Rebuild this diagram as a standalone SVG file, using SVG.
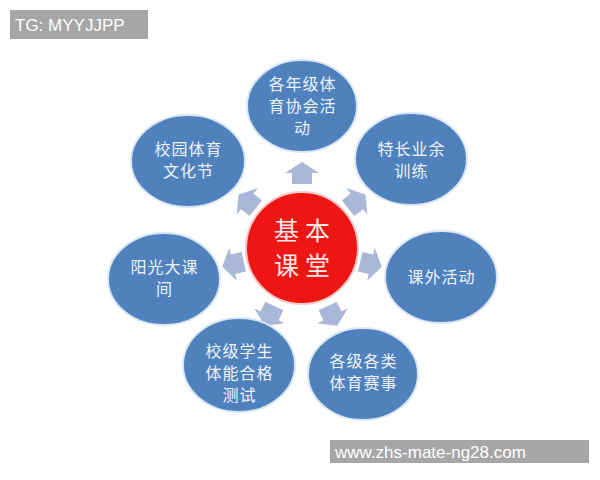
<svg xmlns="http://www.w3.org/2000/svg" width="600" height="480" viewBox="0 0 600 480">
<style>
.node{fill:#4f81bd;stroke:#dbe6f4;stroke-width:2}
.nt{font-family:"Noto Sans CJK SC",sans-serif;font-size:16px;letter-spacing:1px;fill:#eef3fa;text-anchor:middle}
.ct{font-family:"Noto Sans CJK SC",serif;font-size:25px;letter-spacing:6px;fill:#fde8e8;text-anchor:middle}
.arr{fill:#a9b8d8}
.wm{fill:#a6a6a6}
.wt{font-family:"Liberation Sans",Arial,sans-serif;font-size:17px;fill:#ffffff}
</style>
<defs>
<path id="ar" d="M0,-12 L17,-1 L10,-1 L10,10 L-10,10 L-10,-1 L-17,-1 Z"/>
</defs>
<rect width="600" height="480" fill="#ffffff"/>
<g id="connectors" class="arr">
<use href="#ar" transform="translate(302,174)"/>
<use href="#ar" transform="translate(356,202) rotate(51.4)"/>
<use href="#ar" transform="translate(370,264) rotate(102.9)"/>
<use href="#ar" transform="translate(332,315) rotate(154.3)"/>
<use href="#ar" transform="translate(270,315) rotate(205.7)"/>
<use href="#ar" transform="translate(234,264) rotate(257.1)"/>
<use href="#ar" transform="translate(248,202) rotate(308.6)"/>
</g>
<g id="n-top"><ellipse class="node" cx="302" cy="106" rx="55" ry="46"/>
<text class="nt" x="302.5" y="90">各年级体</text><text class="nt" x="302.5" y="112">育协会活</text><text class="nt" x="302.5" y="134">动</text></g>
<g id="n-topright"><ellipse class="node" cx="411" cy="159" rx="56" ry="46"/>
<text class="nt" x="411.5" y="155">特长业余</text><text class="nt" x="411.5" y="177">训练</text></g>
<g id="n-right"><ellipse class="node" cx="441" cy="277" rx="56" ry="46"/>
<text class="nt" x="441.5" y="283">课外活动</text></g>
<g id="n-bottomright"><ellipse class="node" cx="363" cy="374" rx="55" ry="46"/>
<text class="nt" x="363.5" y="367">各级各类</text><text class="nt" x="363.5" y="389">体育赛事</text></g>
<g id="n-bottomleft"><ellipse class="node" cx="239" cy="365" rx="56" ry="47"/>
<text class="nt" x="239.5" y="357">校级学生</text><text class="nt" x="239.5" y="379">体能合格</text><text class="nt" x="239.5" y="401">测试</text></g>
<g id="n-left"><ellipse class="node" cx="164" cy="279" rx="56" ry="46"/>
<text class="nt" x="164.5" y="273">阳光大课</text><text class="nt" x="164.5" y="295">间</text></g>
<g id="n-topleft"><ellipse class="node" cx="188" cy="161" rx="57" ry="46"/>
<text class="nt" x="188.5" y="155">校园体育</text><text class="nt" x="188.5" y="177">文化节</text></g>
<g id="n-center"><circle cx="302" cy="248" r="56" fill="#ee1515" stroke="#f6c8c8" stroke-width="2"/>
<text class="ct" x="305" y="240">基本</text><text class="ct" x="305" y="275">课堂</text></g>
<g id="watermark-top"><rect class="wm" x="10" y="10" width="138" height="29"/><text class="wt" x="15" y="31">TG: MYYJJPP</text></g>
<g id="watermark-bottom"><rect class="wm" x="330" y="440" width="259" height="23"/><text class="wt" x="335" y="458">www.zhs-mate-ng28.com</text></g>
</svg>
